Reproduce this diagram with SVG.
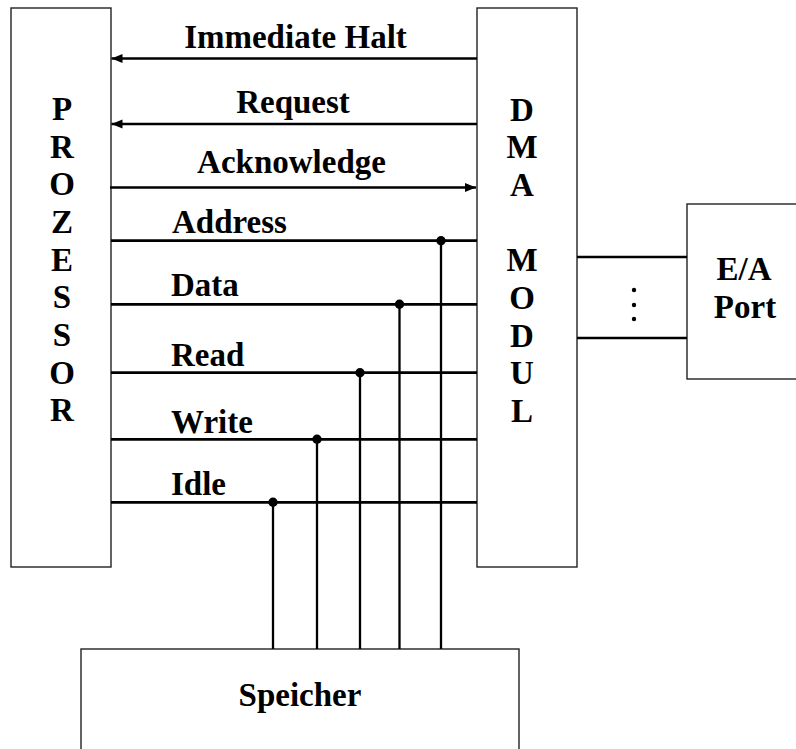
<svg xmlns="http://www.w3.org/2000/svg" width="796" height="749" viewBox="0 0 796 749">
  <style>
    .box { fill: #ffffff; stroke: #222222; stroke-width: 1.4; }
    .lbl { font-family: "Liberation Serif", "Times New Roman", Times, "DejaVu Serif", serif; font-weight: bold; font-size: 33px; fill: #000000; }
    .mid { text-anchor: middle; }
    .sig { stroke: #000000; stroke-width: 2.7; fill: none; }
    .tap { stroke: #000000; stroke-width: 2.3; fill: none; }
    .port { stroke: #000000; stroke-width: 2.3; fill: none; }
  </style>
  <defs>
    <marker id="arrow" markerUnits="userSpaceOnUse" markerWidth="12" markerHeight="10" refX="11" refY="4.5" orient="auto">
      <path d="M0,0 L11,4.5 L0,9 z" fill="#000000"/>
    </marker>
  </defs>
  <rect width="796" height="749" fill="#ffffff"/>

  <!-- processor -->
  <g id="prozessor">
    <rect class="box" x="11" y="8" width="100" height="559"/>
    <text class="lbl mid" x="62" y="120">P</text>
    <text class="lbl mid" x="62" y="157.7">R</text>
    <text class="lbl mid" x="62" y="195.3">O</text>
    <text class="lbl mid" x="62" y="233">Z</text>
    <text class="lbl mid" x="62" y="270.6">E</text>
    <text class="lbl mid" x="62" y="308.3">S</text>
    <text class="lbl mid" x="62" y="346">S</text>
    <text class="lbl mid" x="62" y="383.6">O</text>
    <text class="lbl mid" x="62" y="421.3">R</text>
  </g>

  <!-- DMA module -->
  <g id="dma-modul">
    <rect class="box" x="477" y="8" width="100" height="559"/>
    <text class="lbl mid" x="522" y="120.5">D</text>
    <text class="lbl mid" x="522" y="158.2">M</text>
    <text class="lbl mid" x="522" y="195.9">A</text>
    <text class="lbl mid" x="522" y="271.3">M</text>
    <text class="lbl mid" x="522" y="309">O</text>
    <text class="lbl mid" x="522" y="346.7">D</text>
    <text class="lbl mid" x="522" y="384.4">U</text>
    <text class="lbl mid" x="522" y="422.1">L</text>
  </g>

  <!-- I/O port -->
  <g id="ea-port">
    <rect class="box" x="687" y="204" width="120" height="175"/>
    <text class="lbl mid" x="744" y="280">E/A</text>
    <text class="lbl mid" x="745" y="318">Port</text>
  </g>

  <!-- memory -->
  <g id="speicher">
    <rect class="box" x="81" y="649" width="438" height="120"/>
    <text class="lbl mid" x="300" y="706">Speicher</text>
  </g>

  <!-- bus lines -->
  <g id="connectors">
    <line class="sig" x1="477" y1="58.5" x2="111.5" y2="58.5" marker-end="url(#arrow)"/>
    <line class="sig" x1="477" y1="124" x2="111.5" y2="124" marker-end="url(#arrow)"/>
    <line class="sig" x1="110" y1="187.5" x2="476" y2="187.5" marker-end="url(#arrow)"/>

    <line class="sig" x1="111" y1="240.7" x2="477" y2="240.7"/>
    <line class="sig" x1="111" y1="304.3" x2="477" y2="304.3"/>
    <line class="sig" x1="111" y1="372.7" x2="477" y2="372.7"/>
    <line class="sig" x1="111" y1="439.3" x2="477" y2="439.3"/>
    <line class="sig" x1="111" y1="502.3" x2="477" y2="502.3"/>

    <line class="tap" x1="441" y1="240.7" x2="441" y2="649"/>
    <line class="tap" x1="399.5" y1="304.3" x2="399.5" y2="649"/>
    <line class="tap" x1="360" y1="372.7" x2="360" y2="649"/>
    <line class="tap" x1="317" y1="439.3" x2="317" y2="649"/>
    <line class="tap" x1="273" y1="502.3" x2="273" y2="649"/>

    <g fill="#000000">
      <circle cx="441" cy="240.7" r="4.7"/>
      <circle cx="399.5" cy="304.3" r="4.7"/>
      <circle cx="360" cy="372.7" r="4.7"/>
      <circle cx="317" cy="439.3" r="4.7"/>
      <circle cx="273" cy="502.3" r="4.7"/>
    </g>

    <line class="port" x1="577" y1="257" x2="687" y2="257"/>
    <line class="port" x1="577" y1="338" x2="687" y2="338"/>
    <g fill="#000000">
      <circle cx="634" cy="290" r="2.2"/>
      <circle cx="634" cy="305" r="2.2"/>
      <circle cx="634" cy="319" r="2.2"/>
    </g>
  </g>

  <!-- signal labels -->
  <g id="labels">
    <text class="lbl mid" x="295.5" y="47.5">Immediate Halt</text>
    <text class="lbl mid" x="293" y="113">Request</text>
    <text class="lbl mid" x="291.5" y="173">Acknowledge</text>
    <text class="lbl" x="172" y="233">Address</text>
    <text class="lbl" x="171" y="296">Data</text>
    <text class="lbl" x="171" y="366">Read</text>
    <text class="lbl" x="171" y="433">Write</text>
    <text class="lbl" x="171" y="495">Idle</text>
  </g>
</svg>
